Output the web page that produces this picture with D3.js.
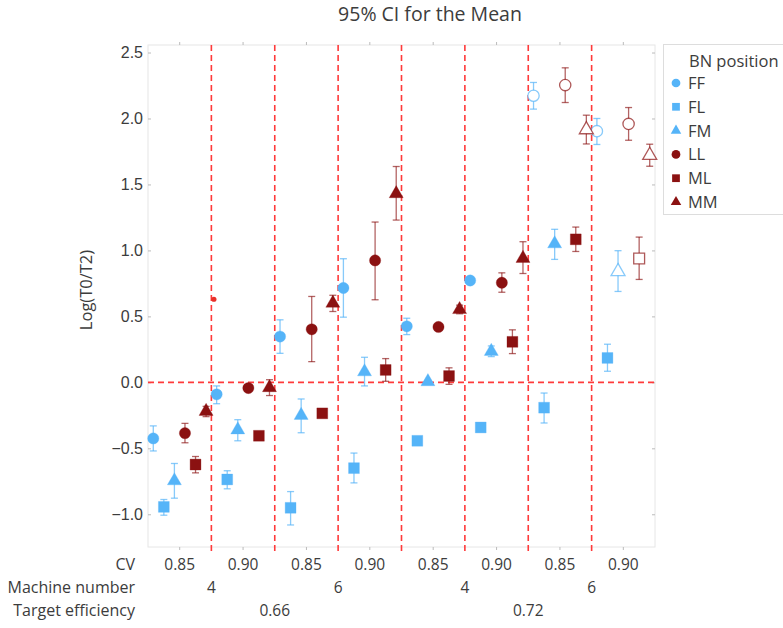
<!DOCTYPE html>
<html lang="en">
<head>
  <meta charset="UTF-8">
  <title>95% CI for the Mean</title>
  <script src="https://d3js.org/d3.v7.min.js"></script>
  <style>
    body { margin: 0; background: #fff; font-family: "Open Sans", sans-serif; }
    svg text { fill: #3c3c3c; }
  </style>
</head>
<body>
  <svg id="chart" width="783" height="628"></svg>

  <script>
    // x categories (one group per CV / machine / efficiency combination)
    const cvLabels = ["0.85", "0.90", "0.85", "0.90", "0.85", "0.90", "0.85", "0.90"];
    const machineLabels = ["4", "6", "4", "6"];
    const efficiencyLabels = ["0.66", "0.72"];
    const positions = ["FF", "FL", "FM", "LL", "ML", "MM"];
    const yTicks = [-1.0, -0.5, 0.0, 0.5, 1.0, 1.5, 2.0, 2.5];

    // means and 95% CI per BN position
    const ffMean = [-0.425, -0.091, 0.347, 0.715, 0.425, 0.772, 2.172, 1.904];
    const ffLow  = [-0.52, -0.162, 0.22, 0.494, 0.362, 0.762, 2.071, 1.803];
    const ffHigh = [-0.33, -0.027, 0.474, 0.937, 0.486, 0.782, 2.273, 2.0];

    const flMean = [-0.944, -0.736, -0.951, -0.65, -0.443, -0.342, -0.192, 0.185];
    const flLow  = [-1.007, -0.807, -1.081, -0.762, -0.453, -0.352, -0.308, 0.084];
    const flHigh = [-0.888, -0.67, -0.828, -0.536, -0.433, -0.332, -0.081, 0.289];

    const fmMean = [-0.746, -0.36, -0.25, 0.08, 0.005, 0.235, 1.05, 0.84];
    const fmLow  = [-0.878, -0.443, -0.382, -0.027, -0.005, 0.195, 0.932, 0.689];
    const fmHigh = [-0.615, -0.283, -0.126, 0.19, 0.015, 0.276, 1.16, 0.998];

    const llMean = [-0.385, -0.043, 0.402, 0.924, 0.42, 0.755, 2.253, 1.959];
    const llLow  = [-0.458, -0.053, 0.157, 0.626, 0.41, 0.683, 2.121, 1.835];
    const llHigh = [-0.311, -0.033, 0.651, 1.215, 0.43, 0.83, 2.384, 2.083];

    const mlMean = [-0.623, -0.405, -0.235, 0.094, 0.048, 0.307, 1.084, 0.939];
    const mlLow  = [-0.686, -0.43, -0.255, 0.008, -0.015, 0.218, 0.992, 0.78];
    const mlHigh = [-0.562, -0.38, -0.215, 0.18, 0.11, 0.398, 1.177, 1.101];

    const mmMean = [-0.22, -0.04, 0.6, 1.43, 0.552, 0.94, 1.915, 1.721];
    const mmLow  = [-0.26, -0.10, 0.537, 1.23, 0.52, 0.825, 1.807, 1.638];
    const mmHigh = [-0.182, 0.02, 0.66, 1.636, 0.585, 1.066, 2.025, 1.805];

    // hollow markers
    const ffOpen = [0, 0, 0, 0, 0, 0, 1, 1];
    const flOpen = [0, 0, 0, 0, 0, 0, 0, 0];
    const fmOpen = [0, 0, 0, 0, 0, 0, 0, 1];
    const llOpen = [0, 0, 0, 0, 0, 0, 1, 1];
    const mlOpen = [0, 0, 0, 0, 0, 0, 0, 1];
    const mmOpen = [0, 0, 0, 0, 0, 0, 1, 1];

    // stray point sitting just right of the first divider
    const strayValue = 0.63;

    const blue = "#55b4f8";
    const red = "#8b1111";
    const series = [
      { name: "FF", mean: ffMean, low: ffLow, high: ffHigh, open: ffOpen, color: blue, shape: d3.symbolCircle },
      { name: "FL", mean: flMean, low: flLow, high: flHigh, open: flOpen, color: blue, shape: d3.symbolSquare },
      { name: "FM", mean: fmMean, low: fmLow, high: fmHigh, open: fmOpen, color: blue, shape: d3.symbolTriangle },
      { name: "LL", mean: llMean, low: llLow, high: llHigh, open: llOpen, color: red, shape: d3.symbolCircle },
      { name: "ML", mean: mlMean, low: mlLow, high: mlHigh, open: mlOpen, color: red, shape: d3.symbolSquare },
      { name: "MM", mean: mmMean, low: mmLow, high: mmHigh, open: mmOpen, color: red, shape: d3.symbolTriangle }
    ];
    const sizes = { circle: 100, square: 118, triangle: 85 };
    const symSize = s => s === d3.symbolCircle ? sizes.circle : s === d3.symbolSquare ? sizes.square : sizes.triangle;

    const svg = d3.select("#chart");
    const plotL = 148, plotR = 655, plotT = 45, plotB = 547;

    const x = d3.scaleBand().domain(d3.range(cvLabels.length)).range([plotL, plotR]).padding(0);
    const inner = d3.scaleBand().domain(positions).range([0, x.bandwidth()]).padding(0);
    const y = d3.scaleLinear().domain([-1.248, 2.557]).range([plotB, plotT]);

    // frame
    svg.append("rect")
      .attr("x", plotL).attr("y", plotT)
      .attr("width", plotR - plotL).attr("height", plotB - plotT)
      .attr("fill", "none").attr("stroke", "#e6e6e6");

    // axes
    const yAxis = svg.append("g")
      .attr("transform", "translate(" + plotL + ",0)")
      .call(d3.axisLeft(y).tickValues(yTicks).tickSize(-3).tickPadding(5)
        .tickFormat(d => d3.format(".1f")(d).replace("-", "\u2212")));
    yAxis.select(".domain").remove();
    yAxis.selectAll("line").attr("stroke", "#bbb");
    yAxis.selectAll("text").style("font-size", "16px").style("fill", "#3c3c3c");

    const yRight = svg.append("g")
      .attr("transform", "translate(" + plotR + ",0)")
      .call(d3.axisRight(y).tickValues(yTicks).tickSize(-3).tickFormat(""));
    yRight.select(".domain").remove();
    yRight.selectAll("line").attr("stroke", "#bbb");

    const xTop = svg.append("g")
      .attr("transform", "translate(0," + plotT + ")")
      .call(d3.axisTop(x).tickSize(3).tickFormat(""));
    xTop.select(".domain").remove();
    xTop.selectAll("line").attr("stroke", "#bbb");

    const xBottom = svg.append("g")
      .attr("transform", "translate(0," + plotB + ")")
      .call(d3.axisBottom(x).tickSize(3).tickFormat(""));
    xBottom.select(".domain").remove();
    xBottom.selectAll("line").attr("stroke", "#bbb");

    // reference lines
    const dividers = d3.range(1, cvLabels.length).map(i => x(i));
    svg.selectAll(".divider")
      .data(dividers)
      .enter().append("line")
      .attr("class", "divider")
      .attr("x1", d => d).attr("x2", d => d)
      .attr("y1", plotT).attr("y2", plotB + 8)
      .attr("stroke", "#ff3a3a").attr("stroke-width", 1.6)
      .attr("stroke-dasharray", "6,4");

    svg.append("line")
      .attr("x1", plotL).attr("x2", plotR)
      .attr("y1", y(0)).attr("y2", y(0))
      .attr("stroke", "#ff3a3a").attr("stroke-width", 1.6)
      .attr("stroke-dasharray", "6,4");

    // points
    const points = [];
    series.forEach(s => {
      s.mean.forEach((m, i) => {
        points.push({ s: s, i: i, mean: m, low: s.low[i], high: s.high[i], open: s.open[i] });
      });
    });
    const px = d => x(d.i) + inner(d.s.name) + inner.bandwidth() / 2;

    const bars = svg.append("g").selectAll("g")
      .data(points)
      .enter().append("g")
      .attr("stroke", d => d.s.color)
      .attr("stroke-opacity", d => d.s.color === blue ? 0.7 : 0.65)
      .attr("stroke-width", 1.3);
    bars.append("line")
      .attr("x1", px).attr("x2", px)
      .attr("y1", d => y(d.low)).attr("y2", d => y(d.high));
    bars.append("line")
      .attr("x1", d => px(d) - 3.5).attr("x2", d => px(d) + 3.5)
      .attr("y1", d => y(d.low)).attr("y2", d => y(d.low));
    bars.append("line")
      .attr("x1", d => px(d) - 3.5).attr("x2", d => px(d) + 3.5)
      .attr("y1", d => y(d.high)).attr("y2", d => y(d.high));

    svg.append("g").selectAll("path")
      .data(points)
      .enter().append("path")
      .attr("d", d => d3.symbol().type(d.s.shape).size(symSize(d.s.shape))())
      .attr("transform", d => "translate(" + px(d) + "," + y(d.mean) + ")")
      .attr("fill", d => d.open ? "#fff" : d.s.color)
      .attr("stroke", d => d.s.color)
      .attr("stroke-opacity", d => d.open ? 0.7 : 0.3)
      .attr("stroke-width", d => d.open ? 1.3 : 1);

    svg.append("circle")
      .attr("cx", x(1) + 2.5)
      .attr("cy", y(strayValue))
      .attr("r", 2.6)
      .attr("fill", "#e8302a");

    // category labels under the plot
    const labelX = 135;
    const rowCv = 570, rowMachine = 593, rowEff = 616;
    const rows = [["CV", rowCv], ["Machine number", rowMachine], ["Target efficiency", rowEff]];
    svg.selectAll(".rowTitle")
      .data(rows)
      .enter().append("text")
      .attr("class", "rowTitle")
      .attr("x", labelX).attr("y", d => d[1])
      .attr("text-anchor", "end")
      .style("font-size", "16px")
      .text(d => d[0]);

    svg.selectAll(".cv")
      .data(cvLabels)
      .enter().append("text")
      .attr("x", (d, i) => x(i) + x.bandwidth() / 2)
      .attr("y", rowCv)
      .attr("text-anchor", "middle")
      .style("font-size", "15.5px")
      .text(d => d);

    svg.selectAll(".machine")
      .data(machineLabels)
      .enter().append("text")
      .attr("x", (d, i) => x(i * 2 + 1))
      .attr("y", rowMachine)
      .attr("text-anchor", "middle")
      .style("font-size", "15.5px")
      .text(d => d);

    svg.selectAll(".eff")
      .data(efficiencyLabels)
      .enter().append("text")
      .attr("x", (d, i) => x(i * 4 + 2))
      .attr("y", rowEff)
      .attr("text-anchor", "middle")
      .style("font-size", "15.5px")
      .text(d => d);

    // titles
    svg.append("text")
      .attr("x", 430).attr("y", 20.5)
      .attr("text-anchor", "middle")
      .style("font-size", "19.5px")
      .text("95% CI for the Mean");

    svg.append("text")
      .attr("transform", "translate(92," + ((plotT + plotB) / 2 - 6) + ") rotate(-90)")
      .attr("text-anchor", "middle")
      .style("font-size", "16.5px")
      .text("Log(T0/T2)");

    // legend
    const legend = svg.append("g");
    legend.append("rect")
      .attr("x", 663.5).attr("y", 44.5)
      .attr("width", 140).attr("height", 170)
      .attr("fill", "#fff").attr("stroke", "#ddd");
    legend.append("text")
      .attr("x", 689).attr("y", 67)
      .style("font-size", "16.5px")
      .text("BN position");

    const item = legend.selectAll(".item")
      .data(series)
      .enter().append("g")
      .attr("transform", (d, i) => "translate(676," + (83 + i * 23.8) + ")");
    item.append("path")
      .attr("d", d => d3.symbol().type(d.shape).size(d.shape === d3.symbolTriangle ? 48 : 60)())
      .attr("fill", d => d.color);
    item.append("text")
      .attr("x", 12).attr("y", 6)
      .style("font-size", "16.5px")
      .text(d => d.name);
  </script>
</body>
</html>
